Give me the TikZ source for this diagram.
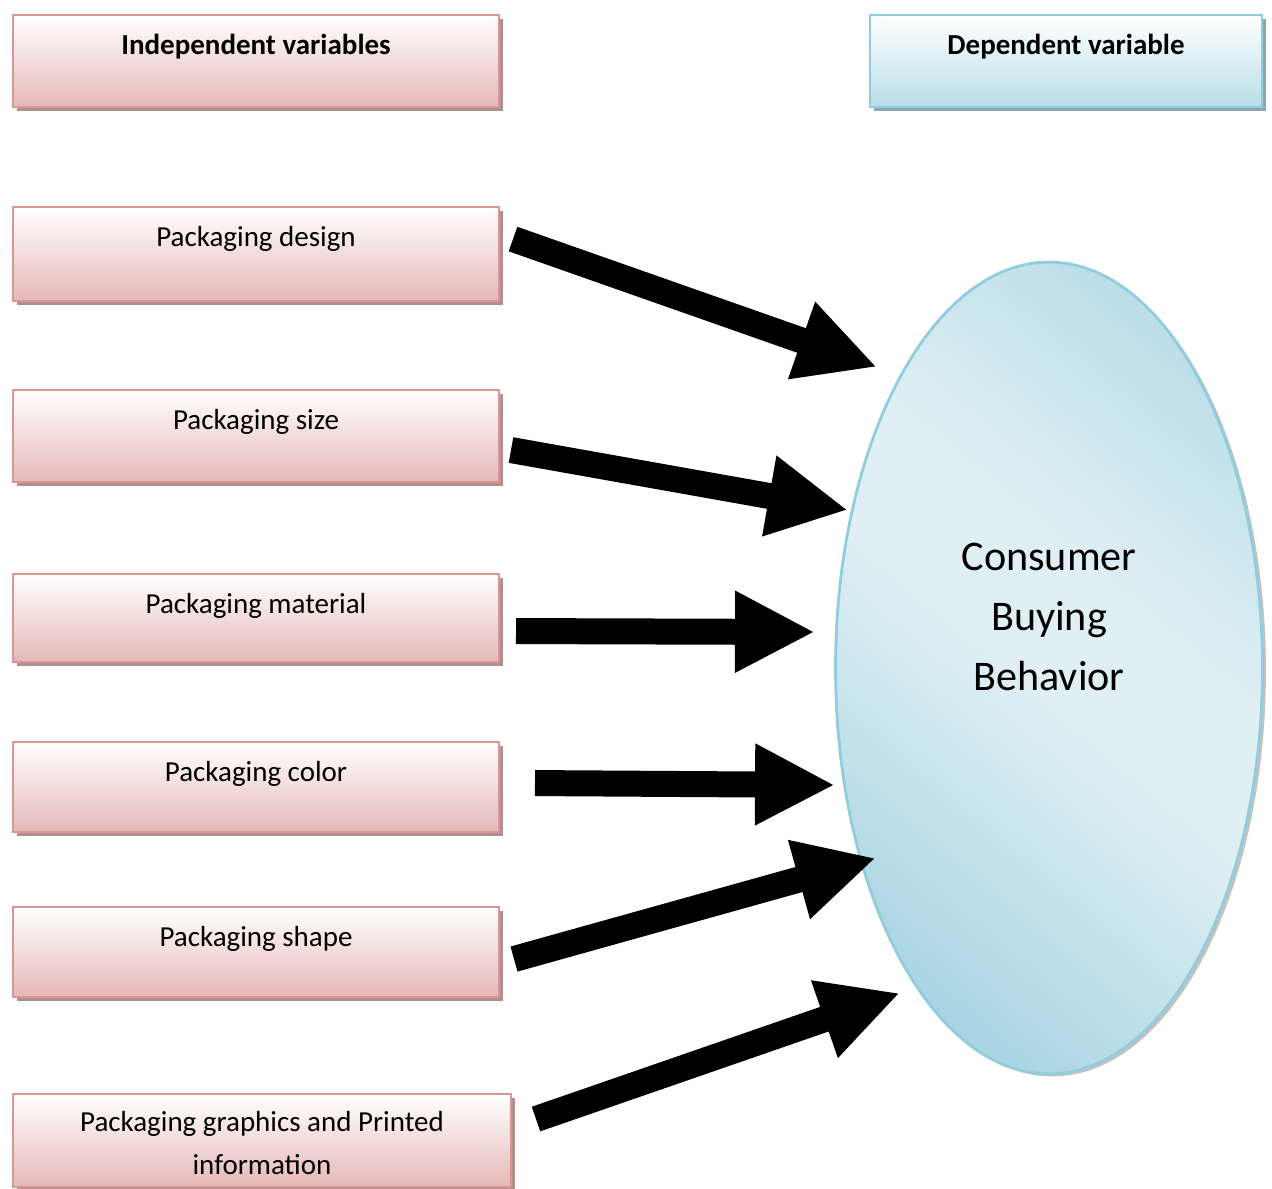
\documentclass[tikz,border=0pt]{standalone}
\usepackage{fontspec}
\setmainfont{Carlito}
\usetikzlibrary{shapes.geometric,shadows,arrows.meta}
\definecolor{pinkline}{RGB}{217,150,148}
\definecolor{pinkfill}{RGB}{229,184,183}
\definecolor{pinkshadow}{RGB}{180,141,142}
\definecolor{blueline}{RGB}{146,205,220}
\definecolor{bluefill}{RGB}{183,222,232}
\definecolor{blueshadow}{RGB}{141,168,178}
\definecolor{elldark}{RGB}{165,211,225}
\definecolor{elllight}{RGB}{223,239,244}
\pgfdeclarehorizontalshading{ellshade}{100bp}{color(0bp)=(elldark); color(22bp)=(elldark);
	color(48bp)=(elllight); color(58bp)=(elllight); color(88bp)=(elldark); color(100bp)=(elldark)}
\begin{document}
\begin{tikzpicture}[x=0.02cm,y=-0.02cm,>={Triangle[width=1.52cm,length=1.6cm]},
	font=\fontsize{16.5}{24}\selectfont,
	varbox/.style={rectangle,anchor=north west,line width=1.2pt,inner ysep=0pt,align=center},
	indep/.style={varbox,draw=pinkline,top color=white,bottom color=pinkfill,minimum width=9.72cm,
		drop shadow={shadow xshift=0.08cm,shadow yshift=-0.08cm,fill=pinkshadow,opacity=1}},
	dep/.style={varbox,draw=blueline,top color=white,bottom color=bluefill,minimum width=7.84cm,
		drop shadow={shadow xshift=0.08cm,shadow yshift=-0.08cm,fill=blueshadow,opacity=1}},
	bigarrow/.style={->,line width=0.52cm}]
	\useasboundingbox (0,0) rectangle (1272,1188);

	% headings
	\node [dep,text height=0.78cm,text depth=1.06cm] (dephead) at (869,14) {\bfseries Dependent variable};
	\node [indep,text height=0.78cm,text depth=1.06cm] (indhead) at (12,14) {\bfseries Independent variables};

	% independent variables
	\node [indep,text height=0.78cm,text depth=1.1cm] (design) at (12,206) {Packaging design};
	\node [indep,text height=0.78cm,text depth=1.06cm] (size) at (12,389) {Packaging size};
	\node [indep,text height=0.78cm,text depth=0.98cm] (material) at (12,573) {Packaging material};
	\node [indep,text height=0.78cm,text depth=1.02cm] (color) at (12,741) {Packaging color};
	\node [indep,text height=0.78cm,text depth=1.02cm] (shape) at (12,906) {Packaging shape};
	\node [indep,text height=1.6cm,text depth=0.26cm,minimum width=9.96cm] (graphics) at (12,1093)
		{Packaging graphics and Printed\\information};

	% dependent variable
	\node [ellipse,draw=blueline,line width=1.6pt,minimum width=8.54cm,minimum height=16.24cm,
		shading=ellshade,shading angle=50,
		drop shadow={shadow xshift=0.07cm,shadow yshift=-0.05cm,fill=black!40,opacity=0.6},
		align=center,font=\fontsize{24}{34}\selectfont,text height=3.04cm,text depth=2.16cm]
		(cbb) at (1049,668) {Consumer\\Buying\\Behavior};

	\coordinate (in1) at (877,367);
	\coordinate (in2) at (848,510);
	\coordinate (in3) at (815,632);
	\coordinate (in4) at (835,785);
	\coordinate (in5) at (876,858);
	\coordinate (in6) at (900,993);

	\draw [bigarrow] ([xshift=0.26cm,yshift=0.30cm]design.east) -- (in1);
	\draw [bigarrow] ([xshift=0.22cm,yshift=-0.28cm]size.east) -- (in2);
	\draw [bigarrow] ([xshift=0.32cm,yshift=-0.26cm]material.east) -- (in3);
	\draw [bigarrow] ([xshift=0.70cm,yshift=0.08cm]color.east) -- (in4);
	\draw [bigarrow] ([xshift=0.28cm,yshift=-0.14cm]shape.east) -- (in5);
	\draw [bigarrow] ([xshift=0.48cm,yshift=0.43cm]graphics.east) -- (in6);
\end{tikzpicture}
\end{document}
